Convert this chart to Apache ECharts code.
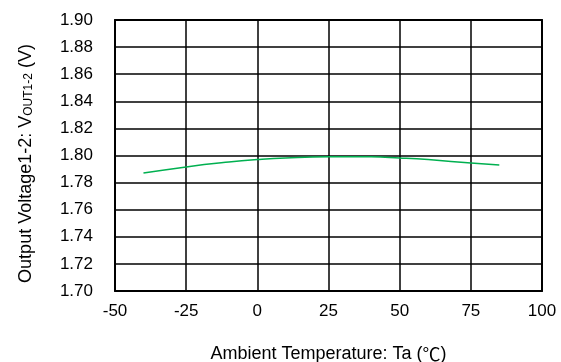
<!DOCTYPE html>
<html>
<head>
<meta charset="utf-8">
<script src="https://cdn.jsdelivr.net/npm/echarts@6/dist/echarts.min.js"></script>
<style>
  html, body { margin: 0; padding: 0; background: #fff; }
  #chart { width: 561px; height: 362px; }
</style>
</head>
<body>
<div id="chart"></div>
<script>
// temperature (°C) and output voltage (V)
const temps = [-40, -25, -10, 0, 10, 25, 40, 50, 60, 75, 85]
const volts = [1.7870, 1.7916, 1.7952, 1.7970, 1.7982, 1.7990, 1.7990, 1.7982, 1.7970, 1.7944, 1.7929]

const xMin = -50, xMax = 100, xStep = 25
const yMin = 1.70, yMax = 1.90, yStep = 0.02

const font = 'Liberation Sans, Arial, sans-serif'
const cjk = 'Noto Sans CJK JP'

const chart = echarts.init(document.getElementById('chart'))

const frame = { show: true, onZero: false, lineStyle: { color: '#000', width: 2 } }

const option = {
  animation: false,
  grid: { left: 115, right: 19, top: 20, bottom: 71, outerBoundsMode: 'none' },
  xAxis: [
    {
      type: 'value',
      min: xMin,
      max: xMax,
      interval: xStep,
      name: '{a|Ambient Temperature: Ta (}{c|\u2103}{a|)}',
      nameLocation: 'middle',
      nameGap: 54,
      nameTextStyle: {
        color: '#000',
        rich: {
          a: { fontSize: 18, fontFamily: font, color: '#000' },
          c: { fontSize: 18, fontFamily: cjk, color: '#000' }
        }
      },
      axisLine: frame,
      axisTick: { show: false },
      axisLabel: { color: '#000', fontSize: 17, fontFamily: font, margin: 12 },
      splitLine: { show: true, lineStyle: { color: '#000', width: 1.5 } }
    },
    {
      type: 'value', position: 'top', min: xMin, max: xMax,
      axisLine: frame, axisTick: { show: false }, axisLabel: { show: false }, splitLine: { show: false }
    }
  ],
  yAxis: [
    {
      type: 'value',
      min: yMin,
      max: yMax,
      interval: yStep,
      name: '{a|Output Voltage1-2: V}{s|OUT1-2}{a| (V)}',
      nameLocation: 'middle',
      nameGap: 80,
      nameTextStyle: {
        color: '#000',
        padding: [0, 16, 0, 0],
        rich: {
          a: { fontSize: 18, fontFamily: font, color: '#000' },
          s: { fontSize: 12, fontFamily: font, color: '#000', padding: [6, 0, 0, 0] }
        }
      },
      axisLine: frame,
      axisTick: { show: false },
      axisLabel: {
        color: '#000', fontSize: 17, fontFamily: font, margin: 22,
        formatter: v => v.toFixed(2)
      },
      splitLine: { show: true, lineStyle: { color: '#000', width: 1.5 } }
    },
    {
      type: 'value', position: 'right', min: yMin, max: yMax,
      axisLine: frame, axisTick: { show: false }, axisLabel: { show: false }, splitLine: { show: false }
    }
  ],
  series: [
    {
      type: 'line',
      data: temps.map((t, i) => [t, volts[i]]),
      smooth: true,
      showSymbol: false,
      lineStyle: { color: '#00b050', width: 1.5 }
    }
  ]
}

chart.setOption(option)
</script>
</body>
</html>
